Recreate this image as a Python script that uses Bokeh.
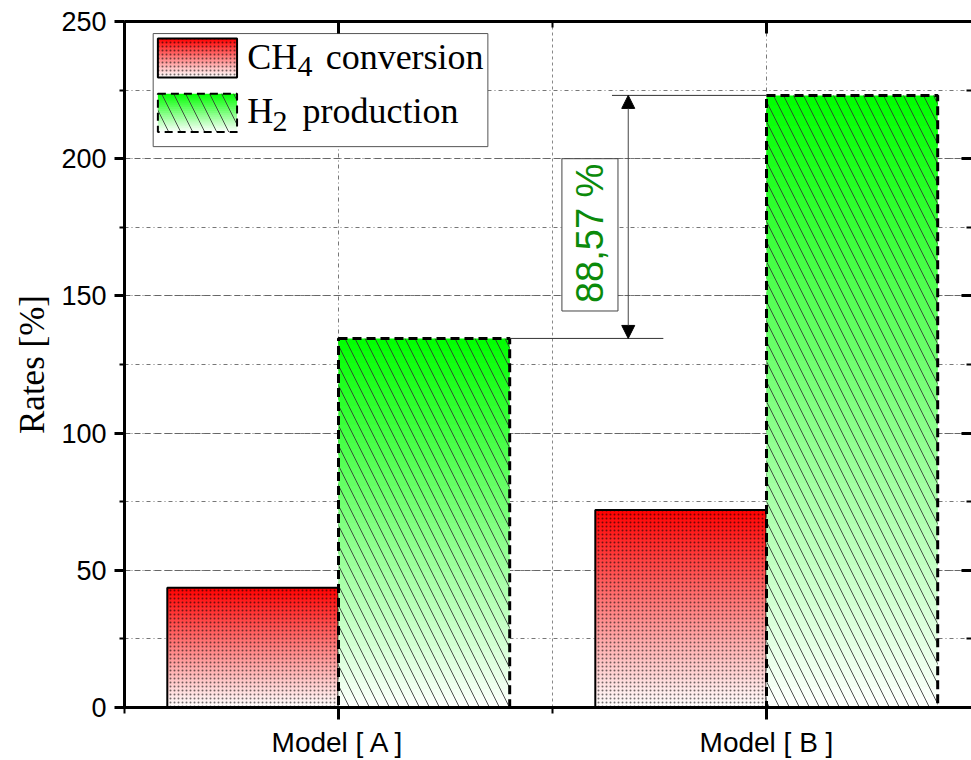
import numpy as np
from bokeh.plotting import figure
from bokeh.models import (Range1d, FixedTicker, SingleIntervalTicker, LinearAxis,
                          ColumnDataSource, Arrow, NormalHead)
from bokeh.core.properties import value
from bokeh.embed import file_html
from bokeh.resources import INLINE

# ---------------- data ----------------
categories = ["Model [ A ]", "Model [ B ]"]
ch4_conversion = [43.6, 72.0]
h2_production = [134.5, 223.07]
increase_text = "88,57 %"
y_title = "Rates [%]"
legend_ch4 = ("CH", "4", "conversion")
legend_h2 = ("H", "2", "production")

RED = (255, 0, 0)
GREEN = (0, 255, 0)
BAR_W = 0.4
x_pos = np.arange(1, len(categories) + 1, dtype=float)

p = figure(width=971, height=760,
           x_range=Range1d(0.5, 2.479), y_range=Range1d(0, 250),
           output_backend="svg", toolbar_location=None,
           min_border_left=124, min_border_right=0,
           min_border_top=21, min_border_bottom=52)
p.outline_line_color = None


def mix(rgb, f):
    r = int(round(255 + (rgb[0] - 255) * f))
    g = int(round(255 + (rgb[1] - 255) * f))
    b = int(round(255 + (rgb[2] - 255) * f))
    return "#%02x%02x%02x" % (r, g, b)


def gradient(lefts, rights, bottoms, tops, rgb, n=60):
    L, R, B, T, C = [], [], [], [], []
    for l, r, b0, t0 in zip(lefts, rights, bottoms, tops):
        h = t0 - b0
        for i in range(n):
            b = b0 + h * i / n
            t = min(t0, b0 + h * (i + 1.6) / n)
            L.append(l); R.append(r); B.append(b); T.append(t)
            C.append(mix(rgb, (i + 0.5) / n))
    src = ColumnDataSource(dict(left=L, right=R, bottom=B, top=T, color=C))
    p.quad(left="left", right="right", bottom="bottom", top="top",
           fill_color="color", line_color=None, source=src)


# ---------------- bars ----------------
red_x = x_pos - BAR_W / 2
green_x = x_pos + BAR_W / 2

gradient(x_pos - BAR_W, x_pos, [0] * len(x_pos), ch4_conversion, RED)
p.vbar(x=red_x, width=BAR_W, top=ch4_conversion, bottom=0,
       fill_color=None, line_color=None,
       hatch_pattern="dot", hatch_scale=4, hatch_color="black", hatch_alpha=0.55)
p.vbar(x=red_x, width=BAR_W, top=ch4_conversion, bottom=0,
       fill_color=None, line_color="black", line_width=2)

gradient(x_pos, x_pos + BAR_W, [0] * len(x_pos), h2_production, GREEN)
p.vbar(x=green_x, width=BAR_W, top=h2_production, bottom=0,
       fill_color=None, line_color=None,
       hatch_pattern="\\", hatch_scale=20, hatch_weight=1, hatch_color="#333333",
       hatch_alpha=0.85)
p.vbar(x=green_x, width=BAR_W, top=h2_production, bottom=0,
       fill_color=None, line_color="black", line_width=3, line_dash="9 5")

# ---------------- legend (manual) ----------------
p.quad(left=[0.567], right=[1.349], bottom=[204.4], top=[245.6],
       fill_color="white", line_color="#555555", line_width=1)
# CH4 swatch
gradient([0.578], [0.763], [229.6], [243.8], RED, n=20)
p.quad(left=[0.578], right=[0.763], bottom=[229.6], top=[243.8],
       fill_color=None, line_color=None,
       hatch_pattern="dot", hatch_scale=4, hatch_color="black", hatch_alpha=0.55)
p.quad(left=[0.578], right=[0.763], bottom=[229.6], top=[243.8],
       fill_color=None, line_color="black", line_width=2)
# H2 swatch
gradient([0.578], [0.763], [209.7], [223.7], GREEN, n=20)
p.quad(left=[0.578], right=[0.763], bottom=[209.7], top=[223.7],
       fill_color=None, line_color=None,
       hatch_pattern="\\", hatch_scale=24, hatch_weight=1, hatch_color="#333333",
       hatch_alpha=0.85)
p.quad(left=[0.578], right=[0.763], bottom=[209.7], top=[223.7],
       fill_color=None, line_color="black", line_width=2, line_dash="8 5")

serif = value("Liberation Serif")
p.text(x=[0.787, 0.970, 0.787, 0.916], y=[236.9, 236.9, 217.3, 217.3],
       text=[legend_ch4[0], legend_ch4[2], legend_h2[0], legend_h2[2]],
       text_font=serif, text_font_size="36px", text_color="black",
       text_align="left", text_baseline="alphabetic")
p.text(x=[0.904, 0.846], y=[233.7, 213.6],
       text=[legend_ch4[1], legend_h2[1]],
       text_font=serif, text_font_size="30px", text_color="black",
       text_align="left", text_baseline="alphabetic")

# ---------------- difference annotation ----------------
p.segment(x0=[x_pos[0] + BAR_W, 1.639], y0=[h2_production[0], h2_production[1]],
          x1=[1.759, x_pos[1]], y1=[h2_production[0], h2_production[1]],
          line_color="#333333", line_width=1)
p.add_layout(Arrow(start=NormalHead(size=13, fill_color="black", line_color="black"),
                   end=NormalHead(size=13, fill_color="black", line_color="black"),
                   x_start=1.677, y_start=h2_production[0],
                   x_end=1.677, y_end=h2_production[1],
                   line_color="#444444", line_width=1))
p.quad(left=[1.522], right=[1.653], bottom=[144.5], top=[200.0],
       fill_color="white", line_color="#444444", line_width=1)
p.text(x=[1.5875], y=[172.8], text=[increase_text], angle=np.pi / 2,
       text_align="center", text_baseline="middle",
       text_font=value("Liberation Sans"), text_font_size="38px",
       text_color="#0B8A0B")

# ---------------- axes ----------------
y_ticker = SingleIntervalTicker(interval=50, num_minor_ticks=2)
x_ticker = FixedTicker(ticks=list(x_pos), minor_ticks=[0.5, 1.5, 2.5])

ya = p.yaxis[0]
ya.ticker = y_ticker
ya.axis_label = y_title
ya.axis_label_text_font = "Liberation Serif"
ya.axis_label_text_font_size = "35px"
ya.axis_label_text_font_style = "normal"
ya.axis_label_text_color = "black"
ya.axis_label_standoff = 6
ya.major_label_text_font = "Liberation Sans"
ya.major_label_text_font_size = "27px"
ya.major_label_text_color = "black"
ya.major_label_standoff = 8
ya.axis_line_width = 3
ya.major_tick_line_width = 3
ya.minor_tick_line_width = 2
ya.major_tick_out = 10
ya.major_tick_in = 0
ya.minor_tick_out = 5
ya.minor_tick_in = 0

xa = p.xaxis[0]
xa.ticker = x_ticker
xa.major_label_overrides = {float(x): c for x, c in zip(x_pos, categories)}
xa.major_label_overrides.update({int(x): c for x, c in zip(x_pos, categories)})
xa.major_label_text_font = "Liberation Sans"
xa.major_label_text_font_size = "28px"
xa.major_label_text_color = "black"
xa.major_label_standoff = 7
xa.axis_line_width = 3
xa.major_tick_line_width = 3
xa.minor_tick_line_width = 2
xa.major_tick_out = 12
xa.major_tick_in = 0
xa.minor_tick_out = 6
xa.minor_tick_in = 0

top_axis = LinearAxis(ticker=FixedTicker(ticks=list(x_pos), minor_ticks=[0.5, 1.5, 2.5]),
                      major_label_text_font_size="1px", major_label_text_color=None,
                      major_label_standoff=0,
                      axis_line_width=3, major_tick_line_width=3, minor_tick_line_width=2,
                      major_tick_in=12, major_tick_out=0, minor_tick_in=6, minor_tick_out=0)
p.add_layout(top_axis, "above")

right_axis = LinearAxis(ticker=SingleIntervalTicker(interval=50, num_minor_ticks=2),
                        major_label_text_font_size="1px", major_label_text_color=None,
                        major_label_standoff=0,
                        axis_line_color=None, major_tick_line_width=3, minor_tick_line_width=2,
                        major_tick_in=10, major_tick_out=0, minor_tick_in=5, minor_tick_out=0)
p.add_layout(right_axis, "right")

# ---------------- grids ----------------
p.ygrid.grid_line_color = "#666666"
p.ygrid.grid_line_dash = "6 4"
p.ygrid.grid_line_width = 1
p.ygrid.minor_grid_line_color = "#777777"
p.ygrid.minor_grid_line_dash = "4 3 1 3"
p.xgrid.grid_line_color = "#777777"
p.xgrid.grid_line_dash = "4 3 1 3"
p.xgrid.minor_grid_line_color = "#888888"
p.xgrid.minor_grid_line_dash = "3 3"

open("out.html", "w").write(file_html(p, INLINE))
